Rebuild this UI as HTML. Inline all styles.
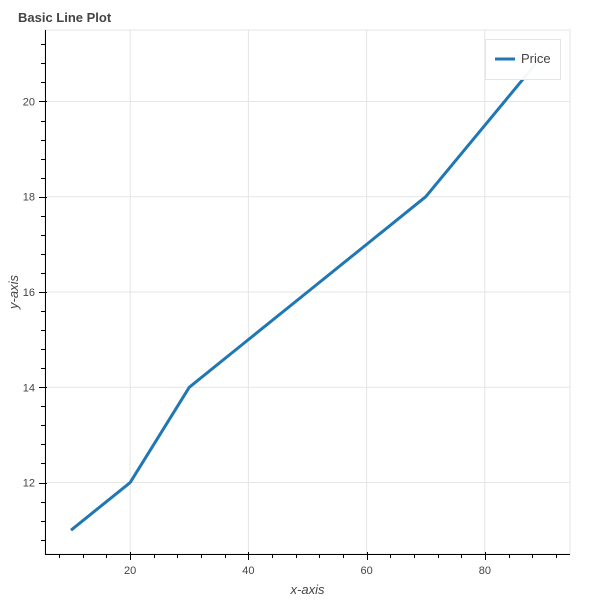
<!DOCTYPE html>
<html><head><meta charset="utf-8"><style>
body{margin:0;background:#fff;}
svg{display:block;font-family:"Liberation Sans",Helvetica,Arial,sans-serif;}
</style></head><body>
<svg id="chart" width="600" height="600">
<text x="18" y="22" font-size="13" font-weight="bold" fill="#444">Basic Line Plot</text>
</svg>
<script>
const xValues=[10,20,30,40,50,60,70,80,90];
const priceValues=[11,12,14,15,16,17,18,19.5,21];
const xTicks=[20,40,60,80];
const yTicks=[12,14,16,18,20];
const seriesName="Price";

const NS="http://www.w3.org/2000/svg";
const svg=document.getElementById('chart');
const L=45,R=570,T=30,B=554;
const xMin=5.6,xMax=94.4,yMin=10.5,yMax=21.5;
const sx=v=>L+(v-xMin)/(xMax-xMin)*(R-L);
const sy=v=>B-(v-yMin)/(yMax-yMin)*(B-T);
function el(tag,attrs,parent){const e=document.createElementNS(NS,tag);for(const k in attrs)e.setAttribute(k,attrs[k]);(parent||svg).appendChild(e);return e;}

// frame
const frame=el('rect',{x:L,y:T,width:R-L,height:B-T,fill:'none',stroke:'#e5e5e5'});



const grid=el('g',{});


xTicks.forEach(t=>{const l=el('line',{x1:sx(t),x2:sx(t),y1:T,y2:B,stroke:'#e5e5e5'},grid);});
yTicks.forEach(t=>{const l=el('line',{x1:L,x2:R,y1:sy(t),y2:sy(t),stroke:'#e5e5e5'},grid);});

// x axis
const xa=el('g',{});


el('line',{x1:L,x2:R,y1:B+0.5,y2:B+0.5,stroke:'#000'},xa);
for(let v=8;v<=92;v+=4){const x=Math.round(sx(v))+0.5;const major=xTicks.includes(v);el('line',{x1:x,x2:x,y1:major?B-2:B,y2:major?B+6:B+4,stroke:'#000'},xa);}
xTicks.forEach(t=>{const tx=el('text',{x:sx(t),y:B+20,'font-size':11,fill:'#444','text-anchor':'middle'},xa);tx.textContent=t;});
const xl=el('text',{x:(L+R)/2,y:594,'font-size':13,'font-style':'italic',fill:'#444','text-anchor':'middle'});
xl.textContent='x-axis';



// y axis
const ya=el('g',{});


el('line',{x1:L+0.5,x2:L+0.5,y1:T,y2:B,stroke:'#000'},ya);
for(let i=0;i<=27;i++){const v=10.8+i*0.4;if(v>yMax)break;const y=Math.round(sy(v))+0.5;const major=yTicks.some(t=>Math.abs(t-v)<1e-6);el('line',{x1:major?L-6:L-4,x2:major?L+2:L,y1:y,y2:y,stroke:'#000'},ya);}
yTicks.forEach(t=>{const tx=el('text',{x:L-10,y:sy(t)+4,'font-size':11,fill:'#444','text-anchor':'end'},ya);tx.textContent=t;});
const yl=el('text',{x:0,y:0,'font-size':13,'font-style':'italic',fill:'#444','text-anchor':'middle',transform:`translate(18,${(T+B)/2}) rotate(-90)`});
yl.textContent='y-axis';



// line
const path=el('polyline',{points:xValues.map((x,i)=>sx(x)+','+sy(priceValues[i])).join(' '),fill:'none',stroke:'#1f77b4','stroke-width':3,'stroke-linejoin':'round'});



// legend
const lg=el('g',{});


el('rect',{x:485.5,y:39.5,width:75,height:40,fill:'#fff','fill-opacity':0.95,stroke:'#e5e5e5'},lg);
el('line',{x1:495,x2:515,y1:59,y2:59,stroke:'#1f77b4','stroke-width':3},lg);
const lt=el('text',{x:521,y:63,'font-size':13,fill:'#444'},lg);
lt.textContent=seriesName;


</script>
</body></html>
